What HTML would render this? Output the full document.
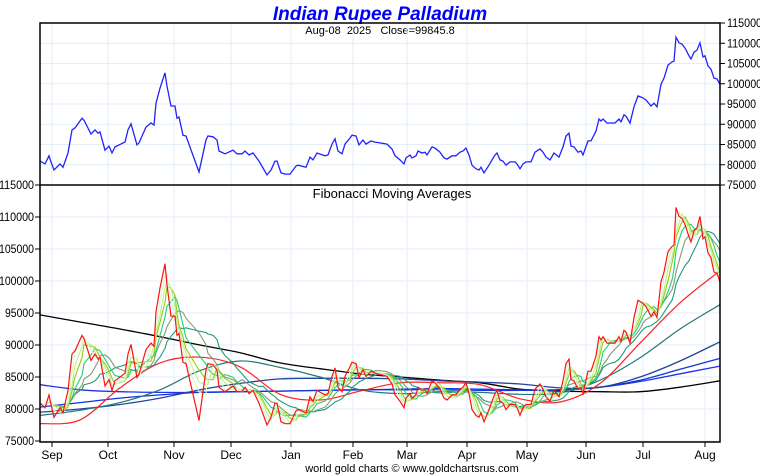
<!DOCTYPE html>
<html><head><meta charset="utf-8"><style>
body{margin:0;background:#fff;}
svg{display:block;font-family:"Liberation Sans",sans-serif;}
</style></head><body>
<svg id="c" width="760" height="475" viewBox="0 0 760 475">
<text x="380" y="20" text-anchor="middle" font-size="19" font-weight="bold" font-style="italic" fill="#0000ff">Indian Rupee Palladium</text>
<text x="380" y="34" text-anchor="middle" font-size="11" fill="#000" xml:space="preserve">Aug-08  2025   Close=99845.8</text>
<g id="grid"></g>
<g id="lower"></g>
<g id="upper"></g>
<rect x="40" y="23" width="680" height="419" fill="none" stroke="#000" stroke-width="1.5"/>
<line x1="40" y1="185" x2="720" y2="185" stroke="#000" stroke-width="1.5"/>
<text x="392" y="198" text-anchor="middle" font-size="13" fill="#000">Fibonacci Moving Averages</text>
<g id="axes"></g>
<text x="412" y="472" text-anchor="middle" font-size="11" fill="#000">world gold charts © www.goldchartsrus.com</text>
</svg>
<script>
const monthLabels=["Sep","Oct","Nov","Dec","Jan","Feb","Mar","Apr","May","Jun","Jul","Aug"];
const monthDays=[6,34,67,95.5,125.5,156.5,183.5,213.5,243.5,273,301.5,332.5];
const priceTicks=[75000,80000,85000,90000,95000,100000,105000,110000,115000];
const closeDays=[0,2.5,4.5,5.5,7,10,11.5,14,16,17.5,21,22,25.5,27.5,29,30,32.5,34.5,36,37.5,42.5,44,45.5,48.5,49.5,53,55.5,57,58,60,62.5,63.5,65.5,67.5,68.5,69.5,71.5,73,79.5,83,84,86.5,88.5,89.5,92.5,96.5,98.5,101,102.5,104.5,106.5,109.5,111.5,113.5,115.5,117.5,118.5,120.5,122.5,125,128,129,133,135,136.5,138.5,142.5,144,146,147.5,149,151,152.5,155,156,158,159.5,161.5,163,165.5,167.5,170,173.5,176,177.5,180,182,183,185,186,188,189,191,192.5,193.5,196,197.5,200,202,203.5,206,208,210,211.5,213,214.5,216,218,219.5,220.5,222,224.5,226,227.5,228.5,230,231.5,233,235,237.5,238.5,240,241.5,243,245.5,247.5,250,251.5,253,255,257,259.5,261.5,263,264.5,265.5,267,269,270.5,271.5,274,275.5,278,279.5,280.5,281.5,283.5,285,287.5,289.5,290.5,292,293,295,297,299,300.5,301.5,303,305.5,307,308.5,310.5,312,314,316,317,318,319.5,321,322.5,324.5,325.5,327,328.5,330,331.5,332.5,334,335.5,337,338.5,340];
const closeValues=[80900,80200,82200,80700,78700,80200,79400,82900,88600,89100,91500,91000,87600,88600,87800,88100,83600,84600,82900,84400,85600,88600,90100,84900,85400,89300,90300,89800,95200,98900,102700,99400,94500,94500,91500,91800,87300,87100,78200,86100,87100,86900,86100,83400,82700,83600,82700,82700,83400,82400,82900,80900,79200,77500,78700,80900,80900,78000,77700,77700,79700,79900,79400,81900,81200,82900,82200,82400,85100,86400,83400,82700,85100,86600,87300,87100,84900,86100,85100,85900,85600,85400,85100,83900,82200,81200,80200,81700,82400,81700,82200,83400,82900,83100,82400,84400,84100,83100,81700,81400,82200,82200,83100,83400,84100,82400,79900,79000,78700,79400,78000,79900,81200,82400,82900,81200,80900,79900,80700,80700,80200,79000,80200,80700,80700,83100,83900,83100,81900,81200,82900,81900,84400,87100,87800,84600,84400,83100,83400,82400,85900,85900,88300,91300,90800,91300,90300,90300,90300,91300,90600,92300,92000,90300,94300,97000,96700,96500,96000,94500,95200,94300,99900,101400,104600,105400,105600,111500,110100,109800,108800,106900,106100,107800,108300,110100,106600,106900,104400,103600,101400,101200,99846];
const longDays=[0,20,40,60,80,100,120,140,160,180,200,220,240,260,280,300,320,340];
const fib233=[94700,93600,92500,91300,90000,88800,87200,86300,85500,85000,84500,84100,83100,82800,82700,82700,83400,84400];
const fib144=[83800,83000,82700,82600,82600,82700,82800,82900,83000,83000,83000,82900,82900,83000,83400,84300,85500,86700];
const fib89=[80300,81000,81700,82200,82600,82700,82800,82900,83000,83100,83200,83100,83000,83000,83400,84500,86200,87900];
const fib55=[79500,80000,80700,81700,83000,84000,84700,84800,84800,84700,84400,84200,83900,83300,83400,85000,87500,90500];
const fib34=[79000,79800,81000,83000,86000,87500,86500,85000,83000,82400,82700,82600,82300,82500,84500,88000,92500,96300];
const fib21=[77700,78300,83300,87200,88100,86600,82300,81400,82800,84100,84100,83800,81600,81100,84000,90300,96600,101600];

const NS="http://www.w3.org/2000/svg";
const xS=d=>40+d*2;
const yTop=v=>185-(v-75000)*162/40000;
const yBot=v=>185+(115000-v)*256/40000;
function mk(tag,attrs,parent){const e=document.createElementNS(NS,tag);for(const k in attrs)e.setAttribute(k,attrs[k]);parent.appendChild(e);return e;}
const grid=document.getElementById('grid'),lower=document.getElementById('lower'),upper=document.getElementById('upper'),axes=document.getElementById('axes');
monthDays.forEach((d,i)=>{
  const l=mk('line',{x1:xS(d),x2:xS(d),y1:23,y2:442,stroke:'#e3eef8','stroke-width':1},grid);
  
  
  const t=mk('line',{x1:xS(d),x2:xS(d),y1:442,y2:447,stroke:'#000'},axes);
  
  
  const tx=mk('text',{x:xS(d),y:459,'text-anchor':'middle','font-size':12,fill:'#000'},axes);
  tx.textContent=monthLabels[i];
  
  
});
priceTicks.forEach(v=>{
  const w=String(v).length>5?35:29;
  const g1=mk('line',{x1:40,x2:720,y1:yTop(v),y2:yTop(v),stroke:'#e3eef8'},grid);
  
  
  const g2=mk('line',{x1:40,x2:720,y1:yBot(v),y2:yBot(v),stroke:'#e3eef8'},grid);
  
  
  const t1=mk('line',{x1:720,x2:725,y1:yTop(v),y2:yTop(v),stroke:'#000'},axes);
  
  
  const l1=mk('text',{x:727,y:yTop(v)+4,'font-size':12,fill:'#000',textLength:w,lengthAdjust:'spacingAndGlyphs'},axes);
  l1.textContent=v;
  
  
  const t2=mk('line',{x1:35,x2:40,y1:yBot(v),y2:yBot(v),stroke:'#000'},axes);
  
  
  const l2=mk('text',{x:34-w,y:yBot(v)+4,'font-size':12,fill:'#000',textLength:w,lengthAdjust:'spacingAndGlyphs'},axes);
  l2.textContent=v;
  
  
});
function pathOf(days,vals,ys){return days.map((d,i)=>(i?'L':'M')+xS(d).toFixed(1)+' '+ys(vals[i]).toFixed(1)).join(' ');}
function smoothPath(days,vals,ys){
  const p=days.map((d,i)=>[xS(d),ys(vals[i])]);
  let s='M'+p[0][0]+' '+p[0][1].toFixed(1);
  for(let i=0;i<p.length-1;i++){
    const p0=p[Math.max(0,i-1)],p1=p[i],p2=p[i+1],p3=p[Math.min(p.length-1,i+2)];
    const c1=[p1[0]+(p2[0]-p0[0])/6,p1[1]+(p2[1]-p0[1])/6];
    const c2=[p2[0]-(p3[0]-p1[0])/6,p2[1]-(p3[1]-p1[1])/6];
    s+=' C'+c1[0].toFixed(1)+' '+c1[1].toFixed(1)+' '+c2[0].toFixed(1)+' '+c2[1].toFixed(1)+' '+p2[0].toFixed(1)+' '+p2[1].toFixed(1);
  }
  return s;
}
function sma(arr,n){return arr.map((_,i)=>{const s=Math.max(0,i-n+1);let t=0;for(let j=s;j<=i;j++)t+=arr[j];return t/(i-s+1);});}
const up=mk('path',{d:pathOf(closeDays,closeValues,yTop),fill:'none',stroke:'#2222ff','stroke-width':1.3},upper);


const longs=[[fib233,'#000000',1.3,'fib-ma-233'],[fib144,'#2233ee',1.3,'fib-ma-144'],[fib89,'#1133dd',1.3,'fib-ma-89'],[fib55,'#224499',1.3,'fib-ma-55'],[fib34,'#227777',1.2,'fib-ma-34'],[fib21,'#ff2222',1.2,'fib-ma-21']];
longs.forEach(([vals,c,w,name])=>{
  const p=mk('path',{d:smoothPath(longDays,vals,yBot),fill:'none',stroke:c,'stroke-width':w,'stroke-linejoin':'round'},lower);
  
  
});
const shorts=[[14,'#229977','fib-ma-13'],[9,'#889977','fib-ma-8'],[6,'#22cc77','fib-ma-5'],[4,'#99cc00','fib-ma-3'],[3,'#bbee99','fib-ma-2'],[2,'#d8f8c8','fib-ma-1']];
shorts.forEach(([n,c,name])=>{
  const p=mk('path',{d:pathOf(closeDays,sma(closeValues,n),yBot),fill:'none',stroke:c,'stroke-width':1.1},lower);
  
  
});
const pr=mk('path',{d:pathOf(closeDays,closeValues,yBot),fill:'none',stroke:'#ff1111','stroke-width':1.2},lower);


</script>
</body></html>
